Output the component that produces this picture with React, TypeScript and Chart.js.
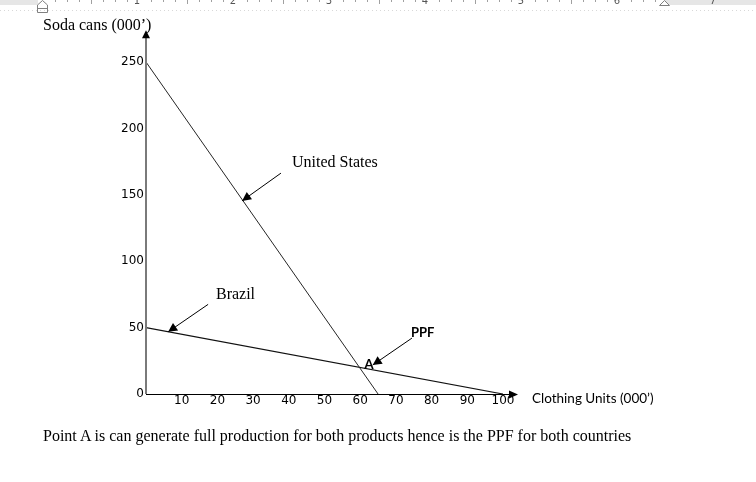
import React, { useEffect, useRef } from "react";
import { Chart, registerables } from "chart.js";

Chart.register(...registerables);

// ---- data ----
const clothingTicks = [10, 20, 30, 40, 50, 60, 70, 80, 90, 100];
const sodaTicks = [0, 50, 100, 150, 200, 250];

const usClothing = [0, 65];
const usSoda = [250, 0];

const brazilClothing = [0, 100];
const brazilSoda = [50, 0];

const seriesNames = ["United States", "Brazil"];
const pointName = "A";
const ppfName = "PPF";
const xTitle = "Clothing Units (000\u2019)";
const yTitle = "Soda cans (000\u2019)";
const caption =
  "Point A is can generate full production for both products hence is the PPF for both countries";

const SERIF = '"Liberation Serif", "Times New Roman", serif';
const TICKFONT = '"DejaVu Sans", Verdana, sans-serif';
const SANS = 'Lato, Carlito, Calibri, sans-serif';

const annotationPlugin = {
  id: "sketchAnnotations",
  beforeDraw(chart: any) {
    const ctx = chart.ctx;
    ctx.save();
    // Word-style ruler strip at the very top
    ctx.fillStyle = "#ffffff";
    ctx.fillRect(0, 0, 756, 6);
    ctx.fillStyle = "#e6e6e6";
    ctx.fillRect(0, 0, 38, 5);
    ctx.fillRect(664, 0, 92, 5);
    ctx.strokeStyle = "#a0a0a0";
    ctx.lineWidth = 1;
    for (let x = 43; x < 664; x += 12) {
      const k = Math.round((x - 43) / 12);
      if (k % 8 === 0) continue;
      const h = k % 4 === 0 ? 4 : 2;
      ctx.beginPath();
      ctx.moveTo(x + 0.5, 0);
      ctx.lineTo(x + 0.5, h);
      ctx.stroke();
    }
    ctx.fillStyle = "#555";
    ctx.font = "10px " + TICKFONT;
    ctx.textAlign = "center";
    ctx.textBaseline = "alphabetic";
    ctx.save();
    ctx.beginPath();
    ctx.rect(0, 0, 756, 5);
    ctx.clip();
    for (let i = 1; i <= 7; i++) {
      ctx.fillText(String(i), 43 + 96 * i - 2, 4);
    }
    ctx.restore();
    // indent markers
    ctx.strokeStyle = "#808080";
    ctx.fillStyle = "#ffffff";
    ctx.beginPath();
    ctx.moveTo(37.5, 5);
    ctx.lineTo(42.5, 0.5);
    ctx.lineTo(47.5, 5);
    ctx.lineTo(47.5, 12.5);
    ctx.lineTo(37.5, 12.5);
    ctx.closePath();
    ctx.fill();
    ctx.stroke();
    ctx.beginPath();
    ctx.moveTo(37.5, 8.5);
    ctx.lineTo(47.5, 8.5);
    ctx.stroke();
    ctx.beginPath();
    ctx.moveTo(659.5, 5.5);
    ctx.lineTo(664.5, 0.5);
    ctx.lineTo(669.5, 5.5);
    ctx.closePath();
    ctx.fill();
    ctx.stroke();
    // faint dotted text boundary
    ctx.strokeStyle = "#d8d8d8";
    ctx.setLineDash([1, 3]);
    ctx.beginPath();
    ctx.moveTo(0, 10.5);
    ctx.lineTo(756, 10.5);
    ctx.stroke();
    ctx.restore();
  },
  afterDraw(chart: any, _args: any, opts: any) {
    const ctx = chart.ctx;
    const xs = chart.scales.x;
    const ys = chart.scales.y;
    const px = (v: number) => xs.getPixelForValue(v);
    const py = (v: number) => ys.getPixelForValue(v);

    const arrowHead = (fx: number, fy: number, tx: number, ty: number, len: number, half: number) => {
      const a = Math.atan2(ty - fy, tx - fx);
      ctx.beginPath();
      ctx.moveTo(tx, ty);
      ctx.lineTo(tx - len * Math.cos(a) + half * Math.sin(a), ty - len * Math.sin(a) - half * Math.cos(a));
      ctx.lineTo(tx - len * Math.cos(a) - half * Math.sin(a), ty - len * Math.sin(a) + half * Math.cos(a));
      ctx.closePath();
      ctx.fill();
    };

    ctx.save();
    // y axis (grey) with arrow
    const ox = px(0);
    const oy = py(0);
    const yTop = py(opts.yAxisEnd);
    ctx.strokeStyle = "#7a7a7a";
    ctx.lineWidth = 2;
    ctx.beginPath();
    ctx.moveTo(ox, oy);
    ctx.lineTo(ox, yTop + 6);
    ctx.stroke();
    ctx.fillStyle = "#000";
    arrowHead(ox, oy, ox, yTop, 8, 4);
    // x axis (black) with arrow
    const xEnd = px(opts.xAxisEnd);
    ctx.strokeStyle = "#000";
    ctx.lineWidth = 1;
    ctx.beginPath();
    ctx.moveTo(ox, Math.round(oy) + 0.5);
    ctx.lineTo(xEnd - 6, Math.round(oy) + 0.5);
    ctx.stroke();
    arrowHead(ox, oy, xEnd, Math.round(oy) + 0.5, 9, 4);

    // annotation arrows
    ctx.strokeStyle = "#000";
    ctx.lineWidth = 1;
    for (const a of opts.arrows) {
      const fx = px(a.from[0]), fy = py(a.from[1]);
      const tx = px(a.to[0]), ty = py(a.to[1]);
      ctx.beginPath();
      ctx.moveTo(fx, fy);
      ctx.lineTo(tx, ty);
      ctx.stroke();
      arrowHead(fx, fy, tx, ty, 9, 4.5);
    }
    // annotation texts
    ctx.fillStyle = "#000";
    ctx.textAlign = "left";
    ctx.textBaseline = "middle";
    for (const t of opts.texts) {
      ctx.font = t.font;
      ctx.fillText(t.text, px(t.at[0]), py(t.at[1]));
    }
    // axis titles
    ctx.font = "16px " + SERIF;
    ctx.fillText(yTitle, ox - 103, yTop - 4);
    ctx.font = "13.5px " + SANS;
    ctx.fillText(xTitle, xEnd + 14, oy + 5);
    ctx.restore();
  },
};

export default function App() {
  const canvasRef = useRef<HTMLCanvasElement | null>(null);

  useEffect(() => {
    document.body.style.margin = "0";
    const canvas = canvasRef.current;
    if (!canvas) return;
    const chart = new Chart(canvas, {
      type: "scatter",
      data: {
        datasets: [
          {
            label: seriesNames[0],
            data: usClothing.map((x, i) => ({ x, y: usSoda[i] })),
            showLine: true,
            borderColor: "#262626",
            borderWidth: 1,
            pointRadius: 0,
          },
          {
            label: seriesNames[1],
            data: brazilClothing.map((x, i) => ({ x, y: brazilSoda[i] })),
            showLine: true,
            borderColor: "#111111",
            borderWidth: 1.2,
            pointRadius: 0,
          },
        ],
      },
      options: {
        animation: false,
        responsive: false,
        devicePixelRatio: 1,
        layout: { padding: { top: 62, right: 253, left: 0, bottom: 0 } },
        plugins: {
          legend: { display: false },
          tooltip: { enabled: false },
          sketchAnnotations: {
            yAxisEnd: 274,
            xAxisEnd: 104.2,
            arrows: [
              { from: [37.8, 166.3], to: [26.9, 145.4] },
              { from: [17.4, 67.5], to: [6.2, 46.8] },
              { from: [74.5, 42.1], to: [63.5, 21.8] },
            ],
            texts: [
              { text: seriesNames[0], at: [40.9, 173.8], font: "16px " + SERIF },
              { text: seriesNames[1], at: [19.6, 75], font: "16px " + SERIF },
              { text: ppfName, at: [74.2, 45.9], font: "bold 13px " + SANS },
              { text: pointName, at: [61.1, 21.8], font: "bold 13.5px " + SANS },
            ],
          },
        } as any,
        scales: {
          x: {
            type: "linear",
            min: 0,
            max: 100,
            afterBuildTicks: (s: any) => {
              s.ticks = clothingTicks.map((v) => ({ value: v }));
            },
            afterFit: (s: any) => {
              s.height = 88;
            },
            grid: { display: false, drawTicks: false },
            border: { display: false },
            ticks: {
              padding: 0,
              autoSkip: false,
              maxRotation: 0,
              color: "#000",
              font: { family: TICKFONT, size: 12 },
              callback: (v: any) => String(v),
            },
          },
          y: {
            type: "linear",
            min: 0,
            max: 250,
            afterBuildTicks: (s: any) => {
              s.ticks = sodaTicks.map((v) => ({ value: v }));
            },
            afterFit: (s: any) => {
              s.width = 146;
            },
            grid: { display: false, drawTicks: false },
            border: { display: false },
            ticks: {
              padding: 2,
              autoSkip: false,
              color: "#000",
              font: { family: TICKFONT, size: 12 },
              callback: (v: any) => String(v),
            },
          },
        },
      },
      plugins: [annotationPlugin],
    } as any);
    return () => chart.destroy();
  }, []);

  return (
    <div style={{ position: "relative", width: 756, height: 482, background: "#fff" }}>
      <canvas ref={canvasRef} width={756} height={482} style={{ display: "block" }} />
      <div
        style={{
          position: "absolute",
          left: 43,
          top: 427,
          font: "16px " + SERIF,
          lineHeight: "18px",
          color: "#000",
          whiteSpace: "nowrap",
        }}
      >
        {caption}
      </div>
    </div>
  );
}
